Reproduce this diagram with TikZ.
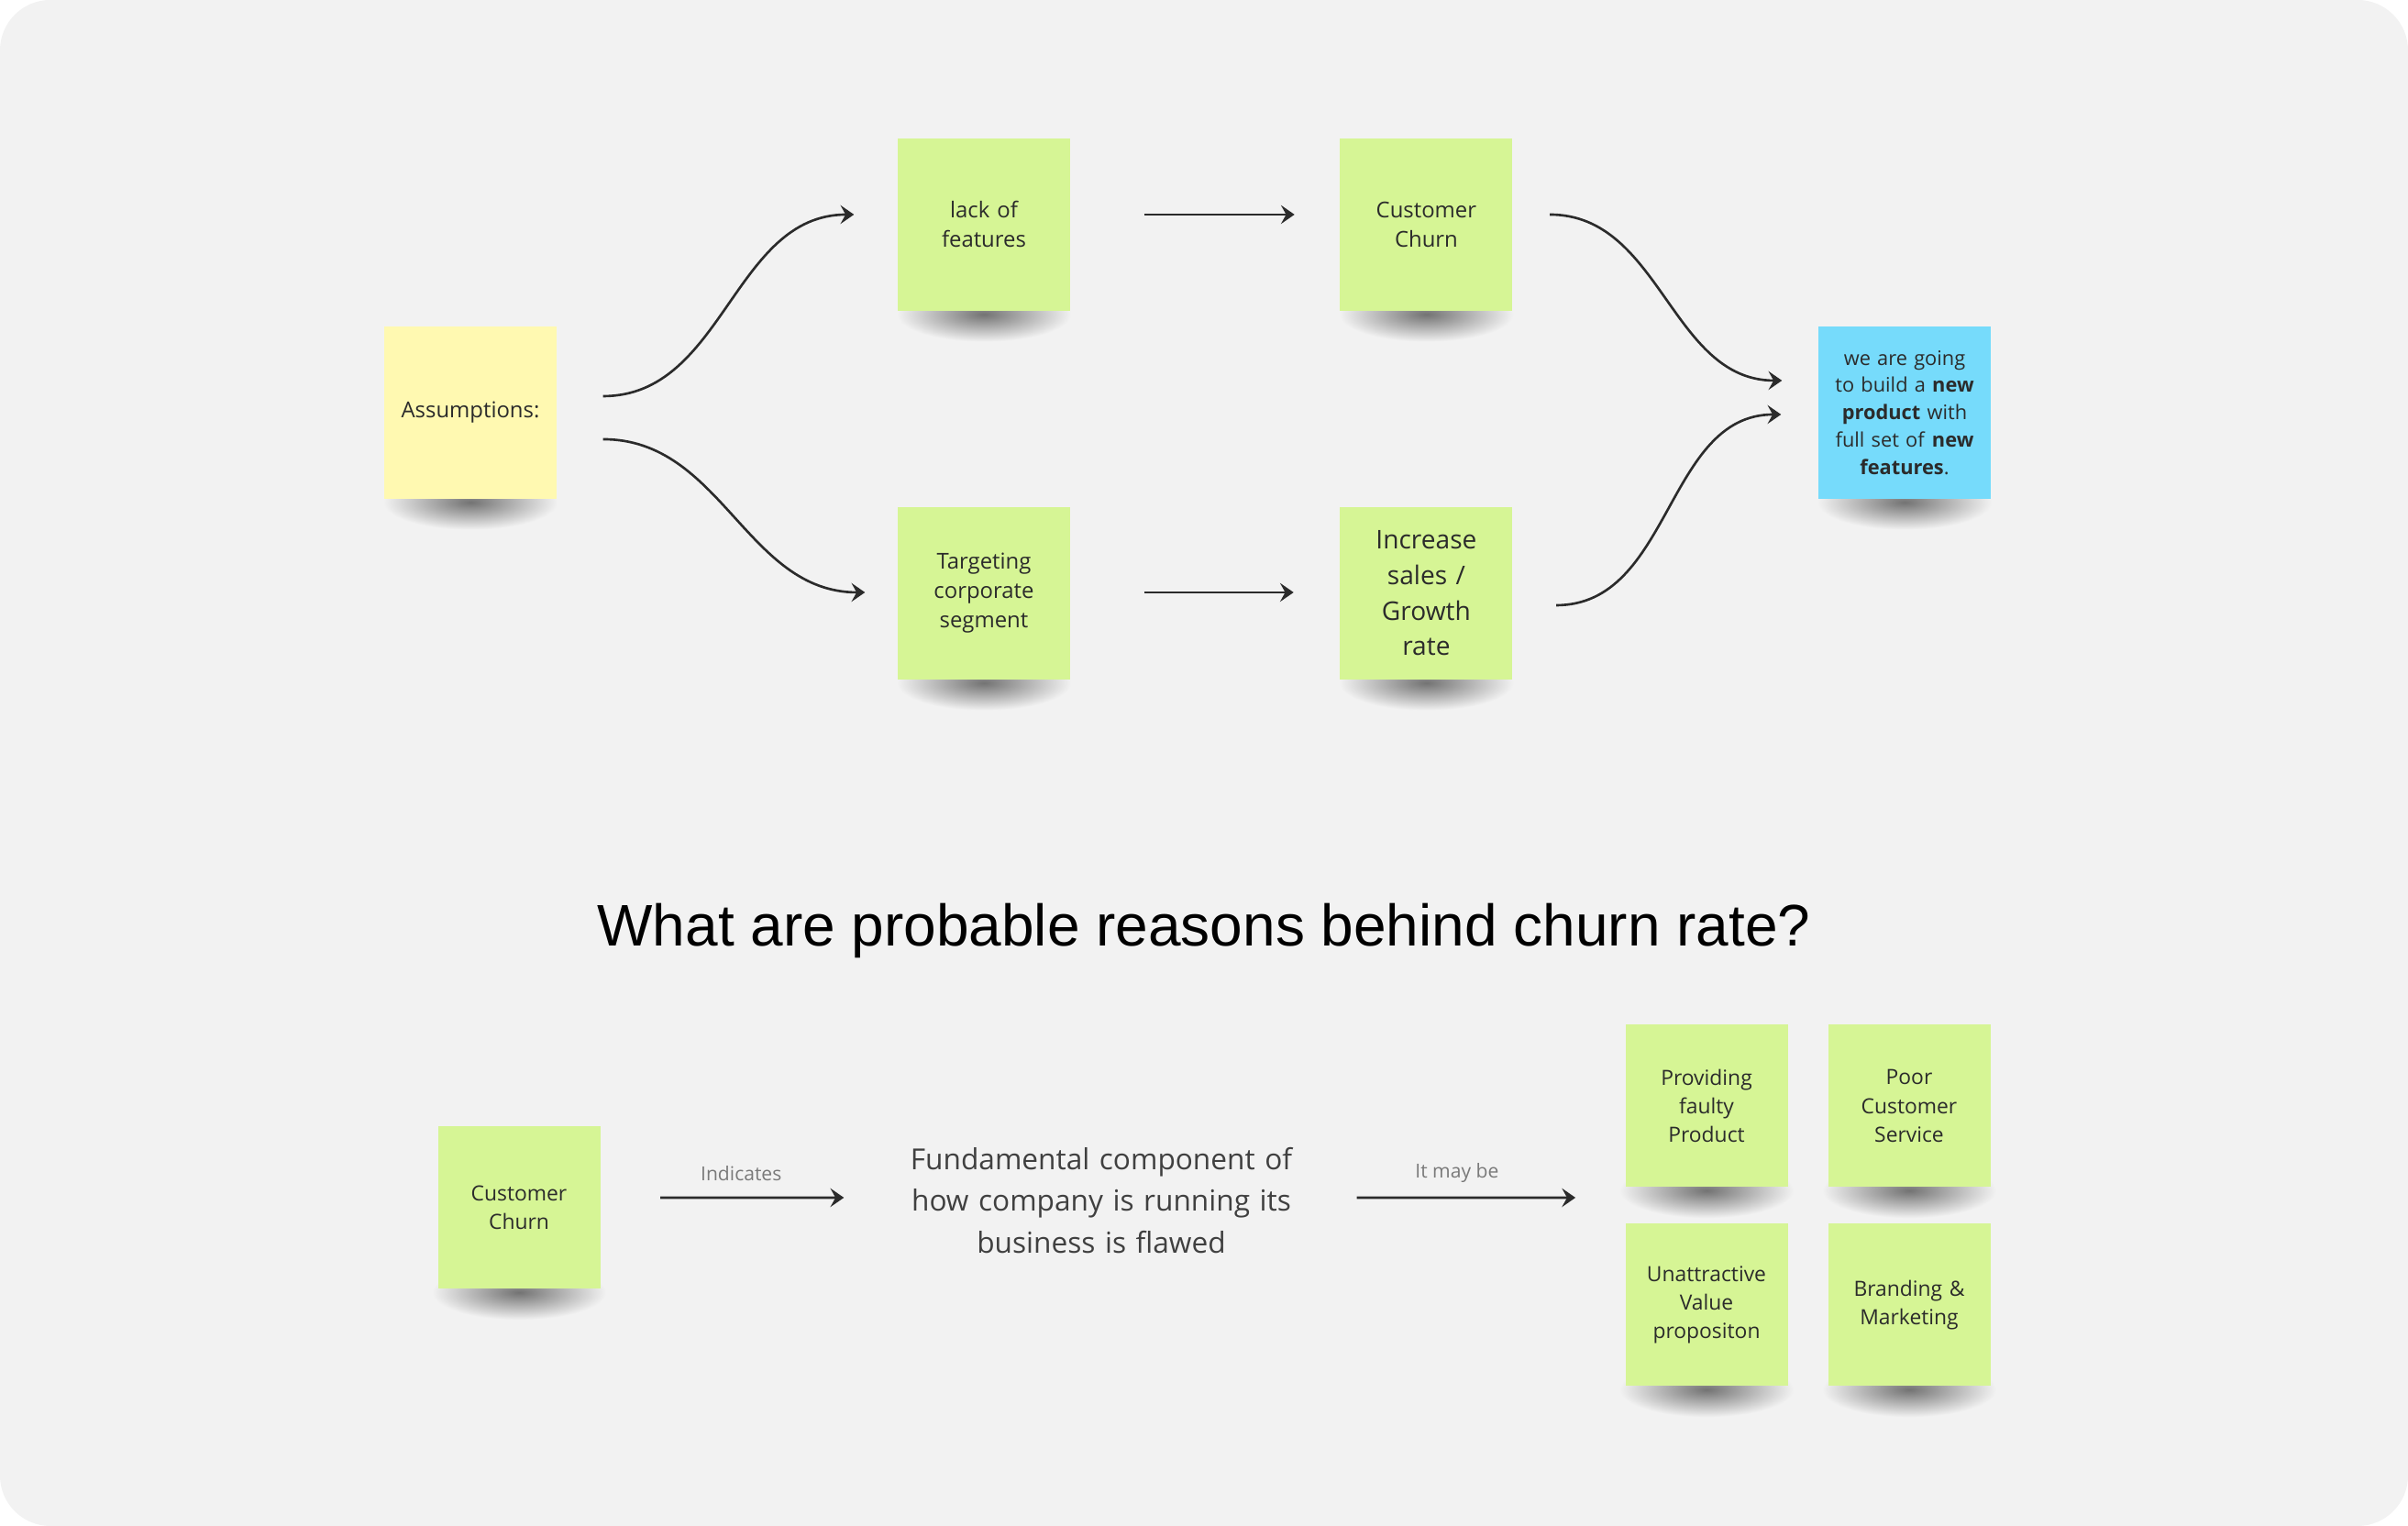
\documentclass[tikz,border=0pt]{standalone}
\usepackage{fontspec}
\setmainfont{Open Sans}
\newfontfamily\titlefont{Liberation Sans}
\usetikzlibrary{positioning,arrows.meta,backgrounds,fit}

\definecolor{boardgray}{HTML}{F2F2F2}
\definecolor{stickygreen}{HTML}{D6F595}
\definecolor{stickyyellow}{HTML}{FFF9B1}
\definecolor{stickyblue}{HTML}{76DBFB}
\definecolor{inkgray}{HTML}{2B2B2B}
\definecolor{labelgray}{HTML}{7A7A7A}

\tikzset{
  sticky/.style={rectangle, fill=stickygreen, minimum width=1.88cm, minimum height=1.88cm,
    text width=1.7cm, align=center, inner sep=0pt, text=inkgray,
    font=\fontsize{6.8}{9.1}\selectfont},
  smallsticky/.style={sticky, minimum width=1.77cm, minimum height=1.77cm,
    font=\fontsize{6.5}{8.9}\selectfont},
  stickyshadow/.style={inner color=black!55, outer color=boardgray},
  link/.style={draw=inkgray, line width=0.75pt, -{Stealth[length=4.2pt, width=5.8pt, inset=1.6pt]}},
  linklabel/.style={font=\fontsize{6}{7}\selectfont, text=labelgray, inner sep=0pt}
}

\begin{document}
\begin{tikzpicture}
    % board
    \begin{scope}[on background layer]
        \fill[white] (0,0) rectangle (26.26,16.64);
        \fill[boardgray, rounded corners=0.55cm] (0,0) rectangle (26.26,16.64);
    \end{scope}
    \useasboundingbox (0,0) rectangle (26.26,16.64);

    % assumptions
    \node[sticky, fill=stickyyellow] (assump) at (5.13,12.14) {Assumptions:};
    \node[sticky] (lack) at (10.73,14.19) {lack of\\features};
    \node[sticky, right=2.93cm of lack] (churn) {Customer\\Churn};
    \node[sticky] (target) at (10.73,10.17) {Targeting\\corporate\\segment};
    \node[sticky, right=2.93cm of target, font=\fontsize{8}{11}\selectfont] (growth)
        {Increase\\sales /\\Growth\\rate};
    \node[sticky, fill=stickyblue, font=\fontsize{6.2}{8.5}\selectfont] (plan) at (20.77,12.14)
        {we are going\\to build a \textbf{new}\\\textbf{product} with\\full set of \textbf{new}\\\textbf{features}.};

    \draw[link] ([shift={(0.5,0.18)}]assump.east) to[out=0, in=180] ([shift={(-0.47,0.11)}]lack.west);
    \draw[link] ([shift={(0.5,-0.29)}]assump.east) to[out=0, in=180] ([shift={(-0.35,0.01)}]target.west);
    \draw[link] ([shift={(0.8,0.11)}]lack.east) -- ([shift={(-0.49,0.11)}]churn.west);
    \draw[link] ([shift={(0.8,0.01)}]target.east) -- ([shift={(-0.5,0.01)}]growth.west);
    \draw[link] ([shift={(0.4,0.11)}]churn.east) to[out=0, in=180] ([shift={(-0.39,0.35)}]plan.west);
    \draw[link] ([shift={(0.47,-0.13)}]growth.east) to[out=0, in=180] ([shift={(-0.4,-0.02)}]plan.west);

    % churn reasons
    \node[font=\titlefont\fontsize{18.2}{22}\selectfont, text=black] (question) at (13.13,6.49)
        {What are probable reasons behind churn rate?};

    \node[smallsticky] (cchurn) at (5.66,3.47) {Customer\\Churn};
    \node[align=center, text width=4.3cm, inner sep=0pt, text=inkgray!90,
          font=\fontsize{9}{13}\selectfont] (flaw) at (12.01,3.55)
        {Fundamental component of\\how company is running its\\business is flawed};
    \node[smallsticky] (faulty) at (18.61,4.58) {Providing\\faulty\\Product};
    \node[smallsticky] (service) at (20.82,4.58) {Poor\\Customer\\Service};
    \node[smallsticky] (value) at (18.61,2.41) {Unattractive\\Value\\propositon};
    \node[smallsticky] (brand) at (20.82,2.41) {Branding \&\\Marketing};
    \node[fit=(faulty)(brand), inner sep=0pt] (reasons) {};

    \draw[link] ([shift={(0.65,0.11)}]cchurn.east) -- ([shift={(-0.65,0.03)}]flaw.west)
        node[midway, above=0.17cm, xshift=-0.12cm, linklabel] {Indicates};
    \draw[link] ([shift={(0.63,0.03)}]flaw.east) -- ([shift={(-0.53,0.085)}]reasons.west)
        node[midway, above=0.15cm, xshift=-0.1cm, linklabel] {It may be};

    % shadows under the stickies
    \begin{scope}[on background layer]
        \foreach \s in {assump,lack,churn,target,growth,plan,cchurn,faulty,service,value,brand}
            \shade[stickyshadow] ([yshift=-0.03cm]\s.south) ellipse [x radius=0.95cm, y radius=0.3cm];
    \end{scope}
\end{tikzpicture}
\end{document}
